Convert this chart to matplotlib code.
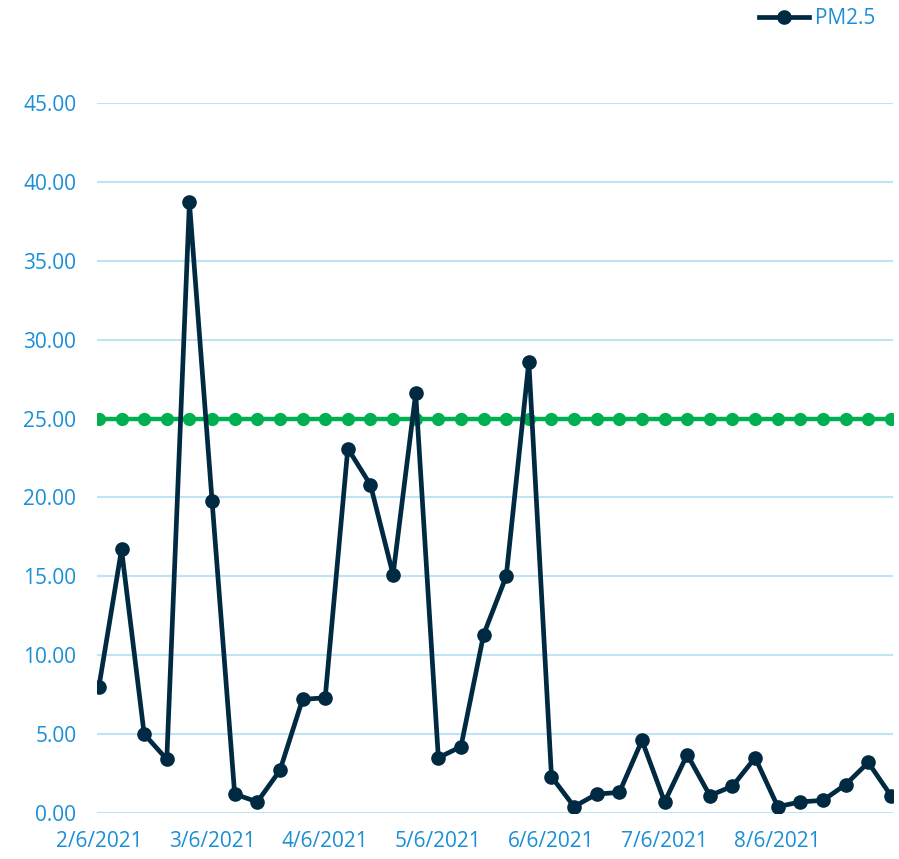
import numpy as np
import matplotlib
matplotlib.use("Agg")
import matplotlib.pyplot as plt

plt.rcParams['font.family'] = ['Open Sans', 'DejaVu Sans']

# weekly PM2.5 readings
pm25 = [8.0, 16.7, 5.0, 3.4, 38.7, 19.8, 1.2, 0.7, 2.7, 7.2,
        7.3, 23.1, 20.8, 15.1, 26.6, 3.5, 4.2, 11.3, 15.0, 28.6,
        2.3, 0.4, 1.2, 1.3, 4.6, 0.7, 3.7, 1.1, 1.7, 3.5,
        0.4, 0.7, 0.8, 1.8, 3.2, 1.1]
limit = [25.0] * len(pm25)
tick_labels = ["2/6/2021", "3/6/2021", "4/6/2021", "5/6/2021",
               "6/6/2021", "7/6/2021", "8/6/2021"]

navy = "#002a42"
green = "#00b050"
blue_txt = "#1a8fd6"
grid_c = "#bfe4f6"

x = np.arange(len(pm25))

fig = plt.figure(figsize=(8.99, 8.59), dpi=100)
ax = fig.add_axes([0.108, 0.0536, 0.885, 0.8265])

ax.plot(x, limit, color=green, lw=3.2, marker="o", ms=8.5, zorder=3)
ln, = ax.plot(x, pm25, color=navy, lw=3.4, marker="o", ms=9.5, zorder=4,
              label="PM2.5")

ax.set_ylim(0, 45)
ax.set_xlim(-0.08, 35.08)
ax.set_yticks(np.arange(0, 46, 5))
ax.set_yticklabels([f"{v:.2f}" for v in np.arange(0, 46, 5)])
ax.set_xticks(x[::5][:len(tick_labels)])
ax.set_xticklabels(tick_labels)
ax.grid(axis="y", color=grid_c, lw=1.5)
ax.set_axisbelow(True)
for s in ax.spines.values():
    s.set_visible(False)
ax.tick_params(length=0, colors=blue_txt, labelsize=15)
ax.tick_params(axis="y", pad=15)
ax.tick_params(axis="x", pad=13)

fig.legend(handles=[ln], loc="upper right", bbox_to_anchor=(0.995, 1.012),
           frameon=False, fontsize=15, labelcolor=blue_txt,
           handlelength=2.4, handletextpad=0.3)

fig.savefig("out.png", dpi=100)
